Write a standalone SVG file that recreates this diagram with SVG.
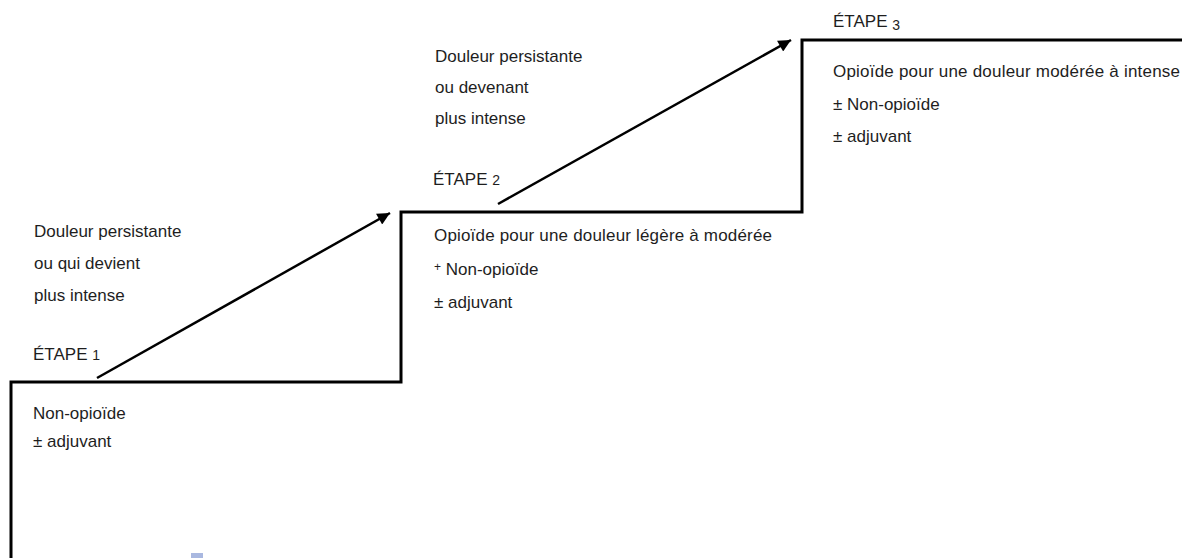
<svg xmlns="http://www.w3.org/2000/svg" width="1182" height="558" viewBox="0 0 1182 558">
<defs>
<marker id="ah" viewBox="0 0 10 10" refX="10" refY="5" markerWidth="6.5" markerHeight="5" markerUnits="strokeWidth" orient="auto">
<path d="M0,0 L10,5 L0,10 Z" fill="#000"/>
</marker>
<style>
text{font-family:"Liberation Sans",Arial,sans-serif;font-size:17px;fill:#1e1e1e}
.num{font-size:14px}
.stair{fill:none;stroke:#000;stroke-width:3}
.arrow{fill:none;stroke:#000;stroke-width:2.5;marker-end:url(#ah)}
</style>
</defs>
<rect width="1182" height="558" fill="#fff"/>
<g id="connectors">
<path class="stair" d="M11,558 V382 H401 V212 H802 V40 H1182"/>
<line class="arrow" x1="97" y1="378" x2="390" y2="213"/>
<line class="arrow" x1="498" y1="204" x2="791" y2="40"/>
</g>
<g id="step1">
<text x="34" y="237">Douleur persistante</text>
<text x="34" y="269">ou qui devient</text>
<text x="34" y="301">plus intense</text>
<text x="33" y="360">ÉTAPE <tspan class="num">1</tspan></text>
<text x="33" y="419">Non-opioïde</text>
<text x="33" y="447">± adjuvant</text>
</g>
<g id="step2">
<text x="435" y="62">Douleur persistante</text>
<text x="435" y="93">ou devenant</text>
<text x="435" y="124">plus intense</text>
<text x="433" y="185">ÉTAPE <tspan class="num">2</tspan></text>
<text x="434" y="241" textLength="338" lengthAdjust="spacing">Opioïde pour une douleur légère à modérée</text>
<text x="434" y="275"><tspan font-size="12px" dy="-4">+</tspan><tspan dy="4"> Non-opioïde</tspan></text>
<text x="434" y="308">± adjuvant</text>
</g>
<g id="step3">
<text x="833" y="27">ÉTAPE <tspan class="num" dy="3">3</tspan></text>
<text x="833" y="77" textLength="347" lengthAdjust="spacing">Opioïde pour une douleur modérée à intense</text>
<text x="833" y="110">± Non-opioïde</text>
<text x="833" y="142">± adjuvant</text>
</g>
<g id="footer">
<rect x="191" y="553" width="12" height="6" fill="#a9b8e0"/>
</g>
</svg>
